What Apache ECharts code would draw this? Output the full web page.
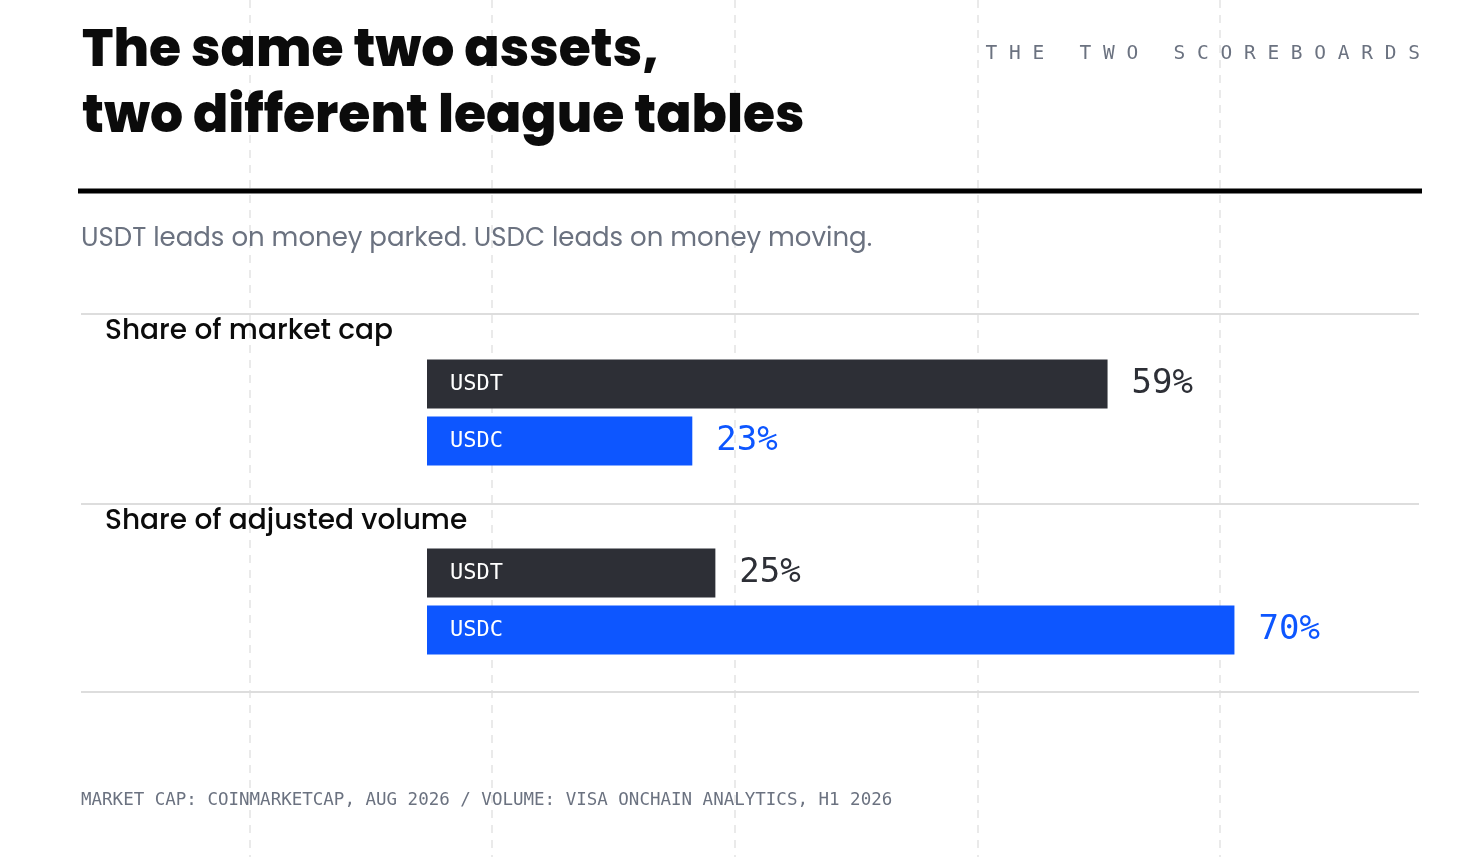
<!DOCTYPE html>
<html><head><meta charset="utf-8">
<script src="https://cdn.jsdelivr.net/npm/echarts@6/dist/echarts.min.js"></script>
<style>html,body{margin:0;background:#fff}#c{width:1470px;height:857px}</style>
</head><body><div id="c"></div>
<script>
const assets = ['USDT', 'USDC'];
const marketCap = [59, 23];
const adjVolume = [25, 70];
const panelTitles = ['Share of market cap', 'Share of adjusted volume'];
const colors = ['#2d2f36', '#0d56ff'];

const chart = echarts.init(document.getElementById('c'));
const sans = 'Poppins, Inter, "Noto Sans", sans-serif';
const mono = '"DejaVu Sans Mono", monospace';
const grids = [{left:427, width:992, top:355.5, height:114}, {left:427, width:992, top:544.5, height:114}];
function series(idx, vals) {
  return {
    type:'bar', xAxisIndex:idx, yAxisIndex:idx, barWidth:49, silent:true,
    data: vals.map((v,i)=>({value:v, itemStyle:{color:colors[i]},
      label:{show:true, position:'right', distance:24, formatter:v+'%', color:colors[i], fontFamily:mono, fontSize:34}})),
    labelLayout:null
  };
}
function inner(idx, vals){
  return {type:'bar', xAxisIndex:idx, yAxisIndex:idx, barWidth:49, barGap:'-100%', silent:true, z:3,
    itemStyle:{color:'transparent'},
    data: vals.map((v,i)=>({value:v, label:{show:true, position:'insideLeft', distance:23, formatter:assets[i], color:'#fff', fontFamily:mono, fontSize:22}}))};
}
const g = [];
[250,492,735,978,1220].forEach(x=>g.push({type:'line', z:-10, shape:{x1:x,y1:0,x2:x,y2:857}, style:{stroke:'#e4e4e4', lineWidth:1.5, lineDash:[8,7]}}));
g.push({type:'text', left:82, top:20, style:{text:'The same two assets,\ntwo different league tables', font:'800 52px '+sans, lineHeight:66, fill:'#0b0b0b'}});
g.push({type:'text', right:50, top:44, style:{text:'T H E   T W O   S C O R E B O A R D S', font:'19.5px '+mono, fill:'#6b7280'}});
g.push({type:'rect', shape:{x:78,y:188.5,width:1344,height:5}, style:{fill:'#000'}});
g.push({type:'text', left:81, top:226, style:{text:'USDT leads on money parked. USDC leads on money moving.', font:'26px '+sans, fill:'#6b7280'}});
[314,504,692].forEach(y=>g.push({type:'line', shape:{x1:81,y1:y,x2:1419,y2:y}, style:{stroke:'#dddddd', lineWidth:2}}));
g.push({type:'text', left:105, top:318, style:{text:panelTitles[0], font:'500 28px '+sans, fill:'#0b0b0b'}});
g.push({type:'text', left:105, top:508, style:{text:panelTitles[1], font:'500 28px '+sans, fill:'#0b0b0b'}});
g.push({type:'text', left:81, top:791, style:{text:'MARKET CAP: COINMARKETCAP, AUG 2026 / VOLUME: VISA ONCHAIN ANALYTICS, H1 2026', font:'17.5px '+mono, fill:'#6b7280'}});

chart.setOption({
  animation:false,
  grid: grids,
  xAxis: [0,1].map(i=>({gridIndex:i, type:'value', min:0, max:86, show:false})),
  yAxis: [0,1].map(i=>({gridIndex:i, type:'category', data:assets, inverse:true, show:false})),
  series: [series(0, marketCap), series(1, adjVolume), inner(0, marketCap), inner(1, adjVolume)],
  graphic: g
});
</script></body></html>
